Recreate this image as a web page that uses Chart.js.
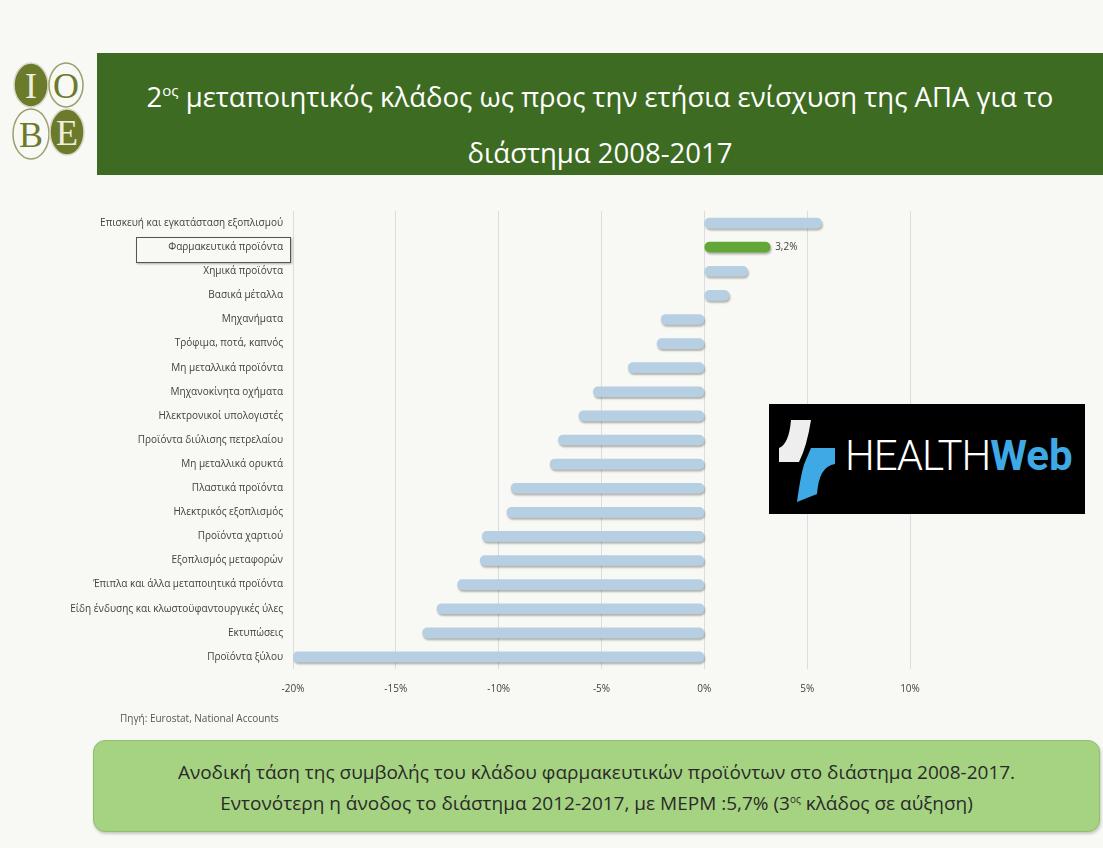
<!DOCTYPE html>
<html>
<head>
<meta charset="utf-8">
<script src="https://cdn.jsdelivr.net/npm/chart.js@4"></script>
<style>
  body { margin: 0; width: 1103px; height: 848px; background: #f8f8f4; position: relative; overflow: hidden; font-family: "Open Sans", sans-serif; }
  #logo { position: absolute; left: 8px; top: 60px; }
  #header { position: absolute; left: 97px; top: 53px; width: 1006px; height: 122px; background: #3e6b22; color: #fff;
            text-align: center; font-size: 27.5px; line-height: 56px; padding-top: 16px; box-sizing: border-box; }
  #header sup { font-size: 15px; vertical-align: 11px; line-height: 0; }
  #wrap { position: absolute; left: 0px; top: 195px; width: 960px; height: 520px; }
  #hl { position: absolute; left: 136px; top: 237px; width: 153px; height: 24px; border: 1px solid #555; box-shadow: 1px 1px 2px rgba(0,0,0,0.3); }
  #src { position: absolute; left: 120px; top: 711px; font-size: 10px; color: #555; }
  #note { position: absolute; left: 93px; top: 740px; width: 1007px; height: 92px; background: #a6d382; border: 1px solid #8fbf6d;
          border-radius: 12px; box-sizing: border-box; text-align: center; color: #2a2a2a; font-size: 19px; line-height: 31px; padding-top: 16px;
          box-shadow: 1px 2px 3px rgba(0,0,0,0.2); }
  #note sup { font-size: 10px; vertical-align: 7px; line-height: 0; }
  #hw { position: absolute; left: 769px; top: 404px; width: 316px; height: 110px; background: #000; }
  #hw .t { position: absolute; left: 76px; top: 27px; font-family: "Roboto", sans-serif; font-size: 42px; line-height: 50px; color: #fff; letter-spacing: -1px; font-weight: 300; }
  #hw .t b { color: #3fa9e6; font-weight: 700; letter-spacing: 0; }
</style>
</head>
<body>
<svg id="logo" width="85" height="110" viewBox="0 0 85 110">
  <ellipse cx="23" cy="25" rx="17" ry="22" fill="#6c7a2c" stroke="#d8d8c8" stroke-width="1.5"/>
  <ellipse cx="58" cy="25" rx="17" ry="22" fill="none" stroke="#9aa070" stroke-width="1.5"/>
  <ellipse cx="23" cy="74" rx="18" ry="25" fill="none" stroke="#9aa070" stroke-width="1.5"/>
  <ellipse cx="59" cy="72" rx="17" ry="23" fill="#6c7a2c" stroke="#d8d8c8" stroke-width="1.5"/>
  <text x="23" y="38" text-anchor="middle" font-family="Liberation Serif" font-size="36" fill="#eeeede">I</text>
  <text x="58" y="38" text-anchor="middle" font-family="Liberation Serif" font-size="36" fill="#6c7a2c">O</text>
  <text x="23" y="87" text-anchor="middle" font-family="Liberation Serif" font-size="36" fill="#6c7a2c">B</text>
  <text x="59" y="85" text-anchor="middle" font-family="Liberation Serif" font-size="36" fill="#eeeede">E</text>
</svg>
<div id="header">2<sup>ος</sup> μεταποιητικός κλάδος ως προς την ετήσια ενίσχυση της ΑΠΑ για το<br>διάστημα 2008-2017</div>
<div id="wrap"><canvas id="c"></canvas></div>
<div id="hl"></div>
<div id="src">Πηγή: Eurostat, National Accounts</div>
<div id="hw">
  <svg width="80" height="110" style="position:absolute;left:0;top:0">
    <path d="M22 16 L42 16 Q38 42 30 58 L10 58 L10 44 Q20 40 22 16 Z" fill="#eeeeee"/>
    <path d="M42 44 L66 44 L66 60 Q50 62 48 90 L28 98 Q32 68 36 58 Z" fill="#3fa9e6"/>
  </svg>
  <div class="t">HEALTH<b>Web</b></div>
</div>
<div id="note">Ανοδική τάση της συμβολής του κλάδου φαρμακευτικών προϊόντων στο διάστημα 2008-2017.<br>Εντονότερη η άνοδος το διάστημα 2012-2017, με ΜΕΡΜ :5,7% (3<sup>ος</sup> κλάδος σε αύξηση)</div>
<script>
const categories = [
  'Επισκευή και εγκατάσταση εξοπλισμού',
  'Φαρμακευτικά προϊόντα',
  'Χημικά προϊόντα',
  'Βασικά μέταλλα',
  'Μηχανήματα',
  'Τρόφιμα, ποτά, καπνός',
  'Μη μεταλλικά προϊόντα',
  'Μηχανοκίνητα οχήματα',
  'Ηλεκτρονικοί υπολογιστές',
  'Προϊόντα διύλισης πετρελαίου',
  'Μη μεταλλικά ορυκτά',
  'Πλαστικά προϊόντα',
  'Ηλεκτρικός εξοπλισμός',
  'Προϊόντα χαρτιού',
  'Εξοπλισμός μεταφορών',
  'Έπιπλα και άλλα μεταποιητικά προϊόντα',
  'Είδη ένδυσης και κλωστοϋφαντουργικές ύλες',
  'Εκτυπώσεις',
  'Προϊόντα ξύλου'
];
const growth = [5.7, 3.2, 2.1, 1.2, -2.1, -2.3, -3.7, -5.4, -6.1, -7.1, -7.5, -9.4, -9.6, -10.8, -10.9, -12.0, -13.0, -13.7, -20.0];
const highlight = 'Φαρμακευτικά προϊόντα';
const xTicks = [-20, -15, -10, -5, 0, 5, 10];

const barColors = categories.map(c => c === highlight ? '#62a738' : '#b7cfe2');

// shadow under the bars, plus the value label of the highlighted bar
const shadowPlugin = {
  id: 'shadow',
  beforeDatasetsDraw(chart) {
    const ctx = chart.ctx;
    ctx.save();
    ctx.shadowColor = 'rgba(0,0,0,0.28)';
    ctx.shadowOffsetX = 1;
    ctx.shadowOffsetY = 2;
    ctx.shadowBlur = 2;
  },
  afterDatasetsDraw(chart) {
    chart.ctx.restore();
    const i = categories.indexOf(highlight);
    const bar = chart.getDatasetMeta(0).data[i];
    const ctx = chart.ctx;
    ctx.save();
    ctx.font = '10px "Open Sans", sans-serif';
    ctx.fillStyle = '#404040';
    ctx.textBaseline = 'middle';
    ctx.fillText(growth[i].toFixed(1).replace('.', ',') + '%', bar.x + 5, bar.y);
    ctx.restore();
  }
};

new Chart(document.getElementById('c'), {
  type: 'bar',
  data: {
    labels: categories,
    datasets: [{
      data: growth,
      backgroundColor: barColors,
      borderRadius: 5,
      borderSkipped: false,
      barThickness: 10
    }]
  },
  options: {
    indexAxis: 'y',
    responsive: true,
    maintainAspectRatio: false,
    animation: false,
    layout: { padding: { top: 12, right: 50, bottom: 6, left: 0 } },
    plugins: { legend: { display: false }, tooltip: { enabled: false } },
    scales: {
      x: {
        min: -20, max: 10,
        afterBuildTicks(scale) { scale.ticks = xTicks.map(v => ({ value: v })); },
        grid: { color: '#dcdcdc', drawTicks: false },
        border: { display: false },
        ticks: {
          padding: 14,
          color: '#404040',
          font: { family: '"Open Sans", sans-serif', size: 10 },
          callback: v => v + '%'
        }
      },
      y: {
        afterFit(scale) { scale.width = 293; },
        grid: { display: false, drawTicks: false },
        border: { display: false },
        ticks: {
          padding: 10,
          color: '#404040',
          font: { family: '"Open Sans", sans-serif', size: 10 }
        }
      }
    }
  },
  plugins: [shadowPlugin]
});
</script>
</body>
</html>
